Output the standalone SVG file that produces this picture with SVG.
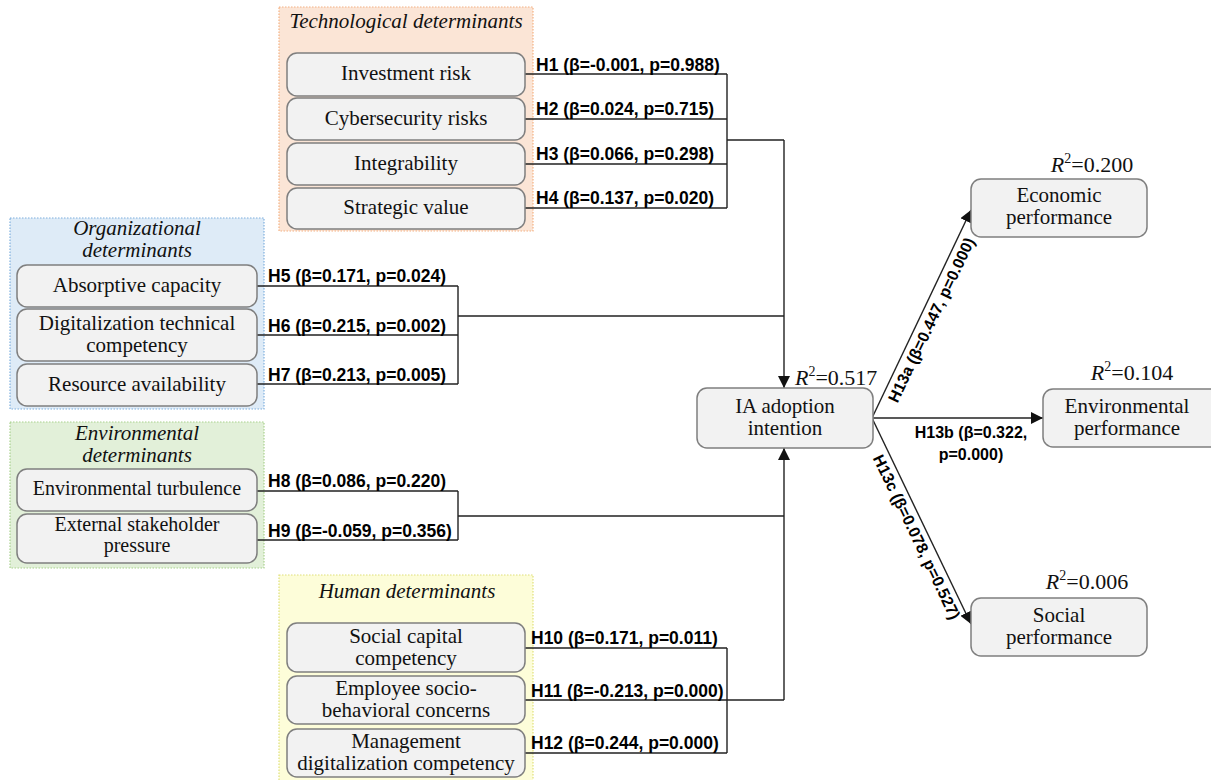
<svg xmlns="http://www.w3.org/2000/svg" width="1211" height="780" viewBox="0 0 1211 780">
<defs>
<marker id="arr" markerUnits="userSpaceOnUse" markerWidth="12" markerHeight="12" viewBox="0 0 12 12" refX="12" refY="6" orient="auto">
<path d="M0,0 L12,6 L0,12 Z" fill="#111"/>
</marker>
</defs>
<style>
.grp{stroke-width:1.2;stroke-dasharray:1.5 1.5}
.node{fill:#f2f2f2;stroke:#7f7f7f;stroke-width:1.5}
.nt{font-family:"Liberation Serif","Times New Roman",serif;font-size:21px;fill:#111;text-anchor:middle}
.nts{font-family:"Liberation Serif","Times New Roman",serif;font-size:20px;fill:#111;text-anchor:middle}
.title{font-family:"Liberation Serif","Times New Roman",serif;font-size:21px;font-style:italic;fill:#111;text-anchor:middle}
.lab{font-family:"Liberation Sans",Arial,sans-serif;font-size:17.5px;font-weight:bold;fill:#000}
.lab2{font-family:"Liberation Sans",Arial,sans-serif;font-size:16px;font-weight:bold;fill:#000;text-anchor:middle}
.r2{font-family:"Liberation Serif","Times New Roman",serif;font-size:22px;fill:#111}
.ln{fill:none;stroke:#222;stroke-width:1.4}
</style>
<rect width="1211" height="780" fill="#fff"/>

<g id="group-tech">
<rect class="grp" x="279" y="7" width="254" height="224" fill="#fbe5d6" stroke="#f4b183"/>
<text class="title" x="406" y="28">Technological determinants</text>
</g>
<g id="group-org">
<rect class="grp" x="10" y="218" width="254" height="191" fill="#deebf7" stroke="#7fb0de"/>
<text class="title" x="137" y="235">Organizational</text>
<text class="title" x="137" y="257">determinants</text>
</g>
<g id="group-env">
<rect class="grp" x="10" y="422" width="254" height="146" fill="#e2f0d9" stroke="#a9d18e"/>
<text class="title" x="137" y="440">Environmental</text>
<text class="title" x="137" y="462">determinants</text>
</g>
<g id="group-human">
<rect class="grp" x="279" y="575" width="254" height="210" fill="#fdfdd9" stroke="#e0e07a"/>
<text class="title" x="407" y="598">Human determinants</text>
</g>

<g id="connectors">
<path class="ln" d="M525,74 H727 M525,119 H727 M525,164 H727 M525,208 H727 M727,74 V208 M727,140 H784"/>
<path class="ln" d="M784,140 V388" marker-end="url(#arr)"/>
<path class="ln" d="M257,286 H458 M257,335 H458 M257,384 H458 M458,286 V384 M458,316 H784"/>
<path class="ln" d="M257,491 H458 M257,540 H458 M458,491 V540 M458,516 H784"/>
<path class="ln" d="M525,648 H727 M525,700 H784 M525,753 H727 M727,648 V753"/>
<path class="ln" d="M784,700 V448" marker-end="url(#arr)"/>
<path class="ln" d="M872,418 L971,210" marker-end="url(#arr)"/>
<path class="ln" d="M872,418 H1043" marker-end="url(#arr)"/>
<path class="ln" d="M872,418 L971,624" marker-end="url(#arr)"/>
<text class="lab" x="536" y="71">H1 (β=-0.001, p=0.988)</text>
<text class="lab" x="536" y="115">H2 (β=0.024, p=0.715)</text>
<text class="lab" x="536" y="160">H3 (β=0.066, p=0.298)</text>
<text class="lab" x="536" y="204">H4 (β=0.137, p=0.020)</text>
<text class="lab" x="268" y="282">H5 (β=0.171, p=0.024)</text>
<text class="lab" x="268" y="332">H6 (β=0.215, p=0.002)</text>
<text class="lab" x="268" y="381">H7 (β=0.213, p=0.005)</text>
<text class="lab" x="268" y="487">H8 (β=0.086, p=0.220)</text>
<text class="lab" x="268" y="537">H9 (β=-0.059, p=0.356)</text>
<text class="lab" x="531" y="644">H10 (β=0.171, p=0.011)</text>
<text class="lab" x="531" y="697">H11 (β=-0.213, p=0.000)</text>
<text class="lab" x="531" y="749">H12 (β=0.244, p=0.000)</text>
<text class="lab2" transform="translate(921,315) rotate(-64.5)" x="0" y="17">H13a (β=0.447, p=0.000)</text>
<text class="lab2" x="971" y="438">H13b (β=0.322,</text>
<text class="lab2" x="971" y="460">p=0.000)</text>
<text class="lab2" transform="translate(927,532) rotate(64.3)" x="0" y="17">H13c (β=0.078, p=0.527)</text>
</g>

<g id="n-investment"><rect class="node" x="287" y="53" width="238" height="43" rx="10"/><text class="nt" x="406" y="80">Investment risk</text></g>
<g id="n-cyber"><rect class="node" x="287" y="98" width="238" height="42" rx="10"/><text class="nt" x="406" y="125">Cybersecurity risks</text></g>
<g id="n-integrability"><rect class="node" x="287" y="143" width="238" height="42" rx="10"/><text class="nt" x="406" y="170">Integrability</text></g>
<g id="n-strategic"><rect class="node" x="287" y="188" width="238" height="41" rx="10"/><text class="nt" x="406" y="214">Strategic value</text></g>

<g id="n-absorptive"><rect class="node" x="17" y="265" width="240" height="42" rx="10"/><text class="nt" x="137" y="292">Absorptive capacity</text></g>
<g id="n-digital-tech"><rect class="node" x="17" y="309" width="240" height="52" rx="10"/><text class="nt" x="137" y="330">Digitalization technical</text><text class="nt" x="137" y="352">competency</text></g>
<g id="n-resource"><rect class="node" x="17" y="364" width="240" height="42" rx="10"/><text class="nt" x="137" y="391">Resource availability</text></g>

<g id="n-turbulence"><rect class="node" x="17" y="469" width="240" height="42" rx="10"/><text class="nts" x="137" y="495">Environmental turbulence</text></g>
<g id="n-stakeholder"><rect class="node" x="17" y="514" width="240" height="49" rx="10"/><text class="nts" x="137" y="531">External stakeholder</text><text class="nts" x="137" y="552">pressure</text></g>

<g id="n-social-capital"><rect class="node" x="287" y="623" width="238" height="49" rx="10"/><text class="nt" x="406" y="643">Social capital</text><text class="nt" x="406" y="665">competency</text></g>
<g id="n-employee"><rect class="node" x="287" y="676" width="238" height="48" rx="10"/><text class="nt" x="406" y="695">Employee socio-</text><text class="nt" x="406" y="717">behavioral concerns</text></g>
<g id="n-management"><rect class="node" x="287" y="729" width="238" height="48" rx="10"/><text class="nt" x="406" y="748">Management</text><text class="nt" x="406" y="770">digitalization competency</text></g>

<g id="n-ia"><rect class="node" x="697" y="388" width="176" height="60" rx="10"/><text class="nt" x="785" y="413">IA adoption</text><text class="nt" x="785" y="435">intention</text>
<text class="r2" x="795" y="385"><tspan font-style="italic">R</tspan><tspan dy="-9" font-size="14">2</tspan><tspan dy="9">=0.517</tspan></text></g>

<g id="n-economic"><rect class="node" x="971" y="179" width="176" height="58" rx="10"/><text class="nt" x="1059" y="202">Economic</text><text class="nt" x="1059" y="224">performance</text>
<text class="r2" x="1092" y="172" text-anchor="middle"><tspan font-style="italic">R</tspan><tspan dy="-9" font-size="14">2</tspan><tspan dy="9">=0.200</tspan></text></g>

<g id="n-environmental"><rect class="node" x="1043" y="389" width="180" height="58" rx="10"/><text class="nt" x="1127" y="413">Environmental</text><text class="nt" x="1127" y="435">performance</text>
<text class="r2" x="1132" y="380" text-anchor="middle"><tspan font-style="italic">R</tspan><tspan dy="-9" font-size="14">2</tspan><tspan dy="9">=0.104</tspan></text></g>

<g id="n-social"><rect class="node" x="971" y="598" width="176" height="58" rx="10"/><text class="nt" x="1059" y="622">Social</text><text class="nt" x="1059" y="644">performance</text>
<text class="r2" x="1087" y="589" text-anchor="middle"><tspan font-style="italic">R</tspan><tspan dy="-9" font-size="14">2</tspan><tspan dy="9">=0.006</tspan></text></g>
</svg>
